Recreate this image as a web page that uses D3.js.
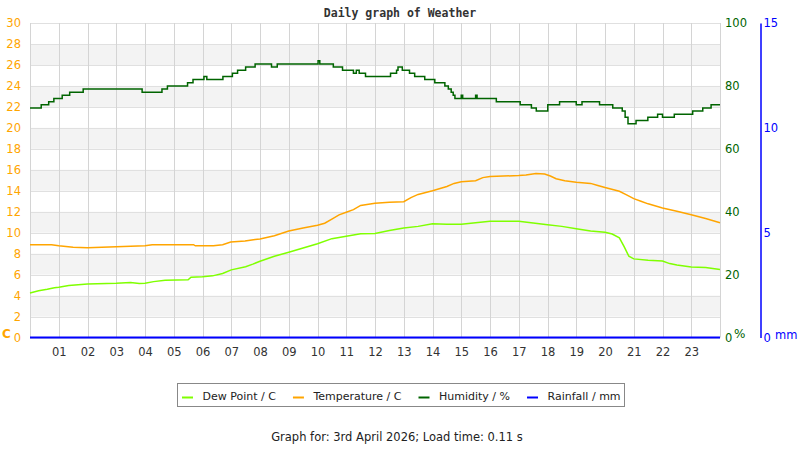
<!DOCTYPE html>
<html>
<head>
<meta charset="utf-8">
<script src="https://cdn.jsdelivr.net/npm/d3@7"></script>
<style>
  body { margin: 0; background: #fff; }
  text { font-family: "DejaVu Sans", sans-serif; }
</style>
</head>
<body>
<div id="chart"></div>
<script>
//data (hours of the day)
var tempHours = [0, 0.75, 1, 1.5, 2, 2.5, 3, 3.5, 4, 4.25, 5, 5.69, 5.75, 6.38, 6.7, 6.98, 7.48, 7.83, 8, 8.5, 9, 9.5, 10, 10.25, 10.5, 10.75, 11, 11.25, 11.5, 12, 12.5, 13, 13.25, 13.5, 14, 14.5, 14.75, 15, 15.5, 15.75, 16, 17, 17.25, 17.6, 17.9, 18.1, 18.3, 18.6, 19, 19.5, 19.75, 20, 20.5, 20.75, 21, 21.25, 21.5, 22, 22.5, 23, 23.5, 24];
var temp = [8.85, 8.85, 8.75, 8.6, 8.57, 8.62, 8.65, 8.7, 8.75, 8.85, 8.85, 8.85, 8.75, 8.75, 8.85, 9.1, 9.2, 9.35, 9.4, 9.7, 10.15, 10.45, 10.7, 10.9, 11.3, 11.7, 11.95, 12.2, 12.6, 12.8, 12.9, 12.95, 13.35, 13.65, 14.0, 14.4, 14.7, 14.85, 14.95, 15.25, 15.35, 15.45, 15.5, 15.65, 15.6, 15.4, 15.15, 14.95, 14.8, 14.7, 14.5, 14.3, 13.95, 13.6, 13.25, 13.0, 12.75, 12.35, 12.05, 11.7, 11.35, 10.95];

var dewHours = [0, 0.3, 0.6, 0.85, 1, 1.35, 2, 3, 3.5, 3.8, 4, 4.3, 4.7, 5.5, 5.6, 6, 6.35, 6.7, 7, 7.5, 7.75, 8, 8.5, 9, 9.5, 10, 10.5, 11, 11.5, 12, 12.5, 13, 13.5, 14, 14.5, 15, 15.5, 16, 16.5, 17, 17.5, 18, 18.5, 19, 19.5, 20, 20.25, 20.5, 20.67, 20.83, 21, 21.5, 22, 22.25, 22.5, 23, 23.5, 24];
var dew = [4.25, 4.45, 4.6, 4.75, 4.8, 4.95, 5.1, 5.17, 5.25, 5.15, 5.17, 5.33, 5.45, 5.5, 5.75, 5.8, 5.88, 6.1, 6.45, 6.75, 7.0, 7.28, 7.75, 8.13, 8.54, 8.95, 9.43, 9.65, 9.9, 9.92, 10.2, 10.45, 10.6, 10.85, 10.8, 10.8, 10.95, 11.08, 11.1, 11.08, 10.92, 10.76, 10.6, 10.38, 10.16, 10.03, 9.87, 9.5, 8.65, 7.75, 7.5, 7.37, 7.3, 7.05, 6.92, 6.73, 6.67, 6.48];

var humHours = [0, 0.39, 0.65, 0.83, 1.12, 1.38, 1.85, 3.9, 4.59, 4.78, 5.48, 5.67, 6.05, 6.15, 6.71, 7.04, 7.22, 7.5, 7.83, 8.4, 8.6, 10.02, 10.08, 10.55, 10.87, 11.25, 11.35, 11.45, 11.67, 12.54, 12.75, 12.8, 12.95, 13.2, 13.38, 13.73, 14.08, 14.43, 14.55, 14.65, 14.72, 14.78, 15.0, 15.05, 15.5, 15.55, 16.22, 17.05, 17.44, 17.61, 18.01, 18.42, 19.0, 19.2, 19.81, 20.27, 20.6, 20.7, 20.8, 21.08, 21.49, 21.83, 22.0, 22.41, 23.05, 23.4, 23.69, 24];
var hum = [73, 74, 75, 76, 77, 78, 79, 78, 79, 80, 81, 82, 83, 82, 83, 84, 85, 86, 87, 86, 87, 88, 87, 86, 85, 84, 85, 84, 83, 84, 85, 86, 85, 84, 83, 82, 81, 80, 79, 78, 77, 76, 77, 76, 77, 76, 75, 74, 73, 72, 74, 75, 74, 75, 74, 73, 72, 70, 68, 69, 70, 71, 70, 71, 72, 73, 74, 74];

var rainHours = [0, 6, 12, 18, 24];
var rain = [0, 0, 0, 0, 0];

var hourTicks = d3.range(1, 24);
var tempTicks = d3.range(0, 31, 2);
var humTicks = [0, 20, 40, 60, 80, 100];
var rainTicks = [0, 5, 10, 15];

var series = ["Dew Point / C", "Temperature / C", "Humidity / %", "Rainfall / mm"];
var colors = ["#7fff00", "#ffa500", "#006400", "#0000ff"];

//set sizes
var width = 800, height = 450;
var plot = {left: 30, right: 720, top: 23, bottom: 337.5};

//set ranges
var x = d3.scaleLinear().domain([0, 24]).range([plot.left, plot.right]);
var yT = d3.scaleLinear().domain([0, 30]).range([plot.bottom, plot.top]);
var yH = d3.scaleLinear().domain([0, 100]).range([plot.bottom, plot.top]);
var yR = d3.scaleLinear().domain([0, 15]).range([plot.bottom, plot.top]);

var svg = d3.select("#chart").append("svg")
    .attr("width", width)
    .attr("height", height);

//title
svg.append("text")
    .attr("x", 400)
    .attr("y", 17)
    .attr("text-anchor", "middle")
    .style("font-family", "'DejaVu Sans Mono', monospace")
    .attr("font-weight", "bold")
    .attr("font-size", 11.5)
    .attr("fill", "#333")
    .text("Daily graph of Weather");

//grey bands every other 2 degrees
svg.append("g").selectAll("rect")
    .data(tempTicks.filter(function(d) { return d % 4 == 2 && d < 30; }))
  .enter().append("rect")
    .attr("x", plot.left)
    .attr("width", plot.right - plot.left)
    .attr("y", function(d) { return yT(d + 2); })
    .attr("height", function(d) { return yT(d) - yT(d + 2); })
    .attr("fill", "#f3f3f3");

//grid lines
var grid = svg.append("g").attr("stroke", "#d4d4d4").attr("stroke-width", 1);
grid.selectAll(".h")
    .data(tempTicks)
  .enter().append("line")
    .attr("x1", plot.left).attr("x2", plot.right)
    .attr("y1", function(d) { return Math.round(yT(d)) + 0.5; })
    .attr("y2", function(d) { return Math.round(yT(d)) + 0.5; })
    .attr("stroke", "#e0e0e0");
grid.selectAll(".v")
    .data([0].concat(hourTicks, [24]))
  .enter().append("line")
    .attr("x1", function(d) { return Math.round(x(d)) + 0.5; })
    .attr("x2", function(d) { return Math.round(x(d)) + 0.5; })
    .attr("y1", plot.top).attr("y2", plot.bottom);

//axes
var gx = svg.append("g")
    .attr("transform", "translate(0," + plot.bottom + ")")
    .call(d3.axisBottom(x).tickValues(hourTicks).tickFormat(d3.format("02d")).tickSize(0).tickPadding(10));
gx.select(".domain").remove();
gx.selectAll("text").attr("font-size", 11.5).attr("fill", "#333").style("font-family", "'DejaVu Sans', sans-serif");

var gl = svg.append("g")
    .attr("transform", "translate(" + (plot.left - 9) + ",0)")
    .call(d3.axisLeft(yT).tickValues(tempTicks).tickSize(0).tickPadding(0));
gl.select(".domain").remove();
gl.selectAll("text").attr("font-size", 11.5).attr("fill", "#ffa500").style("font-family", "'DejaVu Sans', sans-serif");

var gr = svg.append("g")
    .attr("transform", "translate(" + (plot.right + 5) + ",0)")
    .call(d3.axisRight(yH).tickValues(humTicks).tickSize(0).tickPadding(0));
gr.select(".domain").remove();
gr.selectAll("text").attr("font-size", 11.5).attr("fill", "#006400").style("font-family", "'DejaVu Sans', sans-serif");

var gm = svg.append("g")
    .attr("transform", "translate(760.5,0)")
    .call(d3.axisRight(yR).tickValues(rainTicks).tickSize(0).tickSizeOuter(0).tickPadding(3));
gm.select(".domain").attr("stroke", "#0000ff").attr("stroke-width", 1.5);
gm.selectAll("text").attr("font-size", 11.5).attr("fill", "#0000ff").style("font-family", "'DejaVu Sans', sans-serif");

//unit labels
svg.append("text").attr("x", 2).attr("y", 338).attr("font-size", 12).attr("font-weight", "bold")
    .attr("fill", "#ffa500").text("C");
svg.append("text").attr("x", 734).attr("y", 338).attr("font-size", 12)
    .attr("fill", "#006400").text("%");
svg.append("text").attr("x", 775).attr("y", 339).attr("font-size", 11.5)
    .attr("fill", "#0000ff").text("mm");

//lines
function makeLine(xs, scale, curve) {
  return d3.line()
    .x(function(d, i) { return x(xs[i]); })
    .y(function(d) { return scale(d); })
    .curve(curve);
}

svg.append("path")
    .datum(temp)
    .attr("fill", "none")
    .attr("stroke", colors[1])
    .attr("stroke-width", 1.5)
    .attr("d", makeLine(tempHours, yT, d3.curveLinear));

svg.append("path")
    .datum(dew)
    .attr("fill", "none")
    .attr("stroke", colors[0])
    .attr("stroke-width", 1.5)
    .attr("d", makeLine(dewHours, yT, d3.curveLinear));

svg.append("path")
    .datum(hum)
    .attr("fill", "none")
    .attr("stroke", colors[2])
    .attr("stroke-width", 1.5)
    .attr("d", makeLine(humHours, yH, d3.curveStepAfter));

svg.append("path")
    .datum(rain)
    .attr("fill", "none")
    .attr("stroke", colors[3])
    .attr("stroke-width", 2)
    .attr("d", makeLine(rainHours, yR, d3.curveLinear));

//legend
svg.append("rect")
    .attr("x", 177.5).attr("y", 383.5)
    .attr("width", 447).attr("height", 23)
    .attr("fill", "#fff").attr("stroke", "#888").attr("stroke-width", 1);

var lx = 182;
series.forEach(function(s, i) {
  svg.append("line")
    .attr("x1", lx).attr("x2", lx + 11)
    .attr("y1", 397.5).attr("y2", 397.5)
    .attr("stroke", colors[i]).attr("stroke-width", 2);
  var t = svg.append("text")
    .attr("x", lx + 20.5).attr("y", 400)
    .attr("font-size", 11).attr("fill", "#222")
    .text(s);
  lx += 20.5 + t.node().getComputedTextLength() + 17;
});

//footer
svg.append("text")
    .attr("x", 397).attr("y", 441)
    .attr("text-anchor", "middle")
    .attr("font-size", 11.5).attr("fill", "#222")
    .text("Graph for: 3rd April 2026; Load time: 0.11 s");
</script>
</body>
</html>
